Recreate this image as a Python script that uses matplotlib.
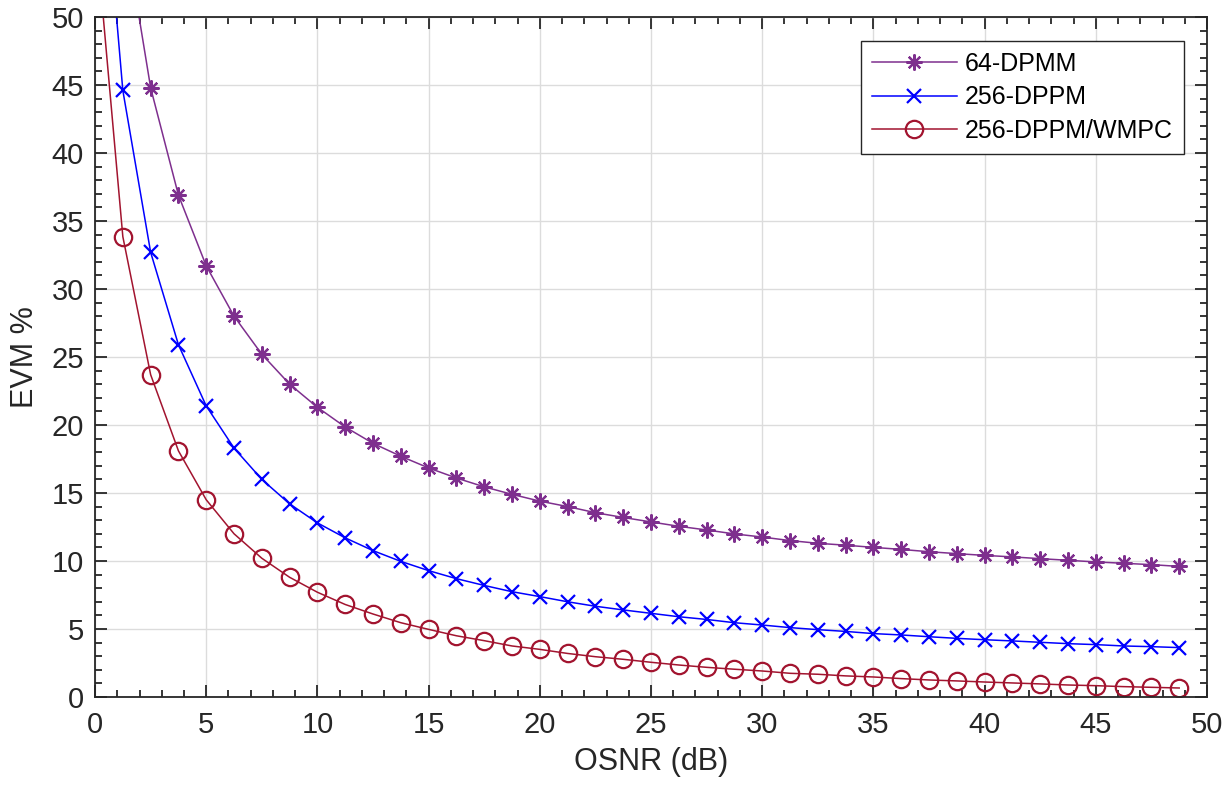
import numpy as np
import matplotlib
matplotlib.use("Agg")
import matplotlib.pyplot as plt

plt.rcParams["font.family"] = ["Liberation Sans", "DejaVu Sans"]

# OSNR sample points (dB)
osnr = np.arange(0, 50, 1.25)

# EVM (%) per modulation format
evm_64dpmm = [np.nan, 57.3, 44.8, 36.9, 31.7, 28.0, 25.2, 23.0, 21.3, 19.85,
              18.65, 17.7, 16.84, 16.1, 15.45, 14.9, 14.4, 14.0, 13.55, 13.2,
              12.87, 12.55, 12.28, 11.99, 11.76, 11.5, 11.3, 11.16, 11.0, 10.85,
              10.68, 10.54, 10.41, 10.3, 10.17, 10.05, 9.93, 9.83, 9.73, 9.6]
evm_256dppm = [68.4, 44.6, 32.7, 25.9, 21.4, 18.3, 16.0, 14.2, 12.8, 11.7,
               10.76, 9.97, 9.29, 8.7, 8.2, 7.74, 7.38, 7.0, 6.67, 6.4,
               6.15, 5.9, 5.7, 5.46, 5.29, 5.1, 4.95, 4.82, 4.66, 4.56,
               4.43, 4.31, 4.21, 4.12, 4.02, 3.92, 3.85, 3.75, 3.7, 3.63]
evm_wmpc = [56.8, 33.85, 23.7, 18.1, 14.5, 12.0, 10.2, 8.8, 7.7, 6.8,
            6.1, 5.46, 4.97, 4.5, 4.14, 3.75, 3.5, 3.2, 2.96, 2.77,
            2.55, 2.35, 2.18, 2.04, 1.91, 1.74, 1.67, 1.55, 1.47, 1.35,
            1.25, 1.18, 1.1, 1.03, 0.96, 0.88, 0.83, 0.76, 0.71, 0.66]

labels = ["64-DPMM", "256-DPPM", "256-DPPM/WMPC"]

AX_COLOR = "#262626"

fig = plt.figure(figsize=(12.31, 7.87), dpi=100)
ax = fig.add_axes([0.0772, 0.1144, 0.9033, 0.864])

ax.plot(osnr, evm_64dpmm, color="#7E2F8E", lw=1.1, marker=(8, 2, 0),
        ms=11.5, mew=1.6, label=labels[0])
ax.plot(osnr, evm_256dppm, color="#0000FF", lw=1.1, marker="x",
        ms=9.5, mew=1.6, label=labels[1])
ax.plot(osnr, evm_wmpc, color="#A2142F", lw=1.1, marker="o",
        ms=12.5, mew=1.6, mfc="none", label=labels[2])

ax.set_xlim(0, 50)
ax.set_ylim(0, 50)
ax.set_xticks(np.arange(0, 51, 5))
ax.set_yticks(np.arange(0, 51, 5))
ax.set_xticks(np.arange(0, 51, 1), minor=True)
ax.set_yticks(np.arange(0, 51, 1), minor=True)

ax.grid(True, which="major", color="#dcdcdc", lw=1.0)
ax.set_axisbelow(True)

for s in ax.spines.values():
    s.set_color(AX_COLOR)
    s.set_linewidth(1.3)
ax.tick_params(which="both", direction="in", top=True, right=True,
               color=AX_COLOR, width=1.3, labelcolor=AX_COLOR,
               labelsize=21)
ax.tick_params(which="major", length=8.5)
ax.tick_params(which="minor", length=5)
ax.tick_params(axis="x", which="major", pad=10)
ax.tick_params(axis="y", which="major", pad=8)

ax.set_xlabel("OSNR (dB)", fontsize=22, color=AX_COLOR, labelpad=6)
ax.set_ylabel("EVM %", fontsize=22, color=AX_COLOR, labelpad=8)

leg = ax.legend(loc="upper right", bbox_to_anchor=(0.979, 0.965),
                fontsize=18, fancybox=False, framealpha=1,
                handlelength=3.4, handletextpad=0.3, borderpad=0.45,
                labelspacing=0.37, borderaxespad=0)
leg.get_frame().set_edgecolor(AX_COLOR)
leg.get_frame().set_linewidth(1.0)

fig.savefig("out.png", dpi=100)
